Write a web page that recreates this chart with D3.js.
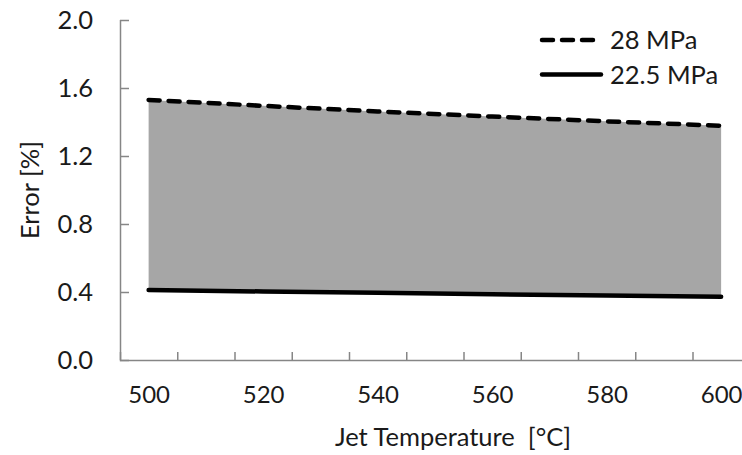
<!DOCTYPE html>
<html>
<head>
<meta charset="utf-8">
<script src="https://cdn.jsdelivr.net/npm/d3@7"></script>
<style>
  body { margin: 0; background: #fff; }
  text { font-family: Lato, "Open Sans", sans-serif; fill: #1a1a1a; }
</style>
</head>
<body>
<script>
// values
const temps = [500, 520, 540, 560, 580, 600];
const err28 = [1.53, 1.495, 1.462, 1.432, 1.404, 1.378];
const err225 = [0.412, 0.403, 0.395, 0.387, 0.379, 0.372];
const seriesNames = ["28 MPa", "22.5 MPa"];

const xLabels = [500, 520, 540, 560, 580, 600];
const xTicks = [505, 515, 525, 535, 545, 555, 565, 575, 585, 595];
const yTicks = [0, 0.4, 0.8, 1.2, 1.6, 2.0];

const W = 742, H = 455;
const FS = 25.5;

var svg = d3.select("body").append("svg")
    .attr("width", W)
    .attr("height", H);

var x = d3.scaleLinear().domain([495, 605]).range([120, 749.75]);
var y = d3.scaleLinear().domain([0, 2]).range([360, 20]);

var rows = temps.map((t, i) => ({t: t, hi: err28[i], lo: err225[i]}));

// grey band between the two curves
svg.append("path")
    .datum(rows)
    .attr("fill", "#a6a6a6")
    .attr("d", d3.area()
      .x(d => x(d.t))
      .y0(d => y(d.lo))
      .y1(d => y(d.hi)));

// y axis
var yAxis = svg.append("g")
    .attr("transform", "translate(120,0)")
    .call(d3.axisLeft(y).tickValues(yTicks).tickSize(-9).tickPadding(27)
      .tickFormat(d3.format(".1f")));

// x axis: inner tick marks
var xAxis = svg.append("g")
    .attr("transform", "translate(0,360)")
    .call(d3.axisBottom(x).tickValues(xTicks).tickSize(-8).tickFormat(""));

// x axis labels (no marks)
var xLab = svg.append("g")
    .attr("transform", "translate(0,360)")
    .call(d3.axisBottom(x).tickValues(xLabels).tickSize(0).tickPadding(26));
xLab.select(".domain").remove();

[yAxis, xAxis].forEach(g => {
  g.select(".domain").attr("stroke", "#868686").attr("stroke-width", 1.5);
  g.selectAll(".tick line").attr("stroke", "#868686").attr("stroke-width", 1.5);
});
yAxis.select(".domain").attr("d", "M0.5," + y(2) + "V" + y(0));
yAxis.selectAll(".tick text").attr("font-size", FS);
xLab.selectAll(".tick text").attr("font-size", 24);
[yAxis, xLab].forEach(g => {
  g.selectAll(".tick text")
    .attr("fill", "#1a1a1a")
    .style("font-family", "Lato, 'Open Sans', sans-serif");
});

var line = d3.line().x(d => x(d.t));

svg.append("path")
    .datum(rows)
    .attr("fill", "none")
    .attr("stroke", "#000")
    .attr("stroke-width", 4.5)
    .attr("stroke-linecap", "round")
    .attr("d", line.y(d => y(d.lo)));

svg.append("path")
    .datum(rows)
    .attr("fill", "none")
    .attr("stroke", "#000")
    .attr("stroke-width", 4.5)
    .attr("stroke-linecap", "round")
    .attr("stroke-dasharray", "11,9")
    .attr("d", line.y(d => y(d.hi)));

// legend
var legend = svg.append("g");
seriesNames.forEach((name, i) => {
  var ly = 40 + i * 34.5;
  legend.append("line")
      .attr("x1", 542).attr("x2", 601)
      .attr("y1", ly).attr("y2", ly)
      .attr("stroke", "#000")
      .attr("stroke-width", 4.5)
      .attr("stroke-linecap", "round")
      .attr("stroke-dasharray", i === 0 ? "11,9" : null);
  legend.append("text")
      .attr("x", 610)
      .attr("y", ly + 9)
      .attr("font-size", FS)
      .text(name);
});

// axis titles
svg.append("text")
    .attr("x", 453)
    .attr("y", 446)
    .attr("text-anchor", "middle")
    .attr("font-size", FS)
    .style("white-space", "pre")
    .text("Jet Temperature  [°C]");

svg.append("text")
    .attr("transform", "translate(39,190) rotate(-90)")
    .attr("text-anchor", "middle")
    .attr("font-size", FS)
    .text("Error [%]");
</script>
</body>
</html>
